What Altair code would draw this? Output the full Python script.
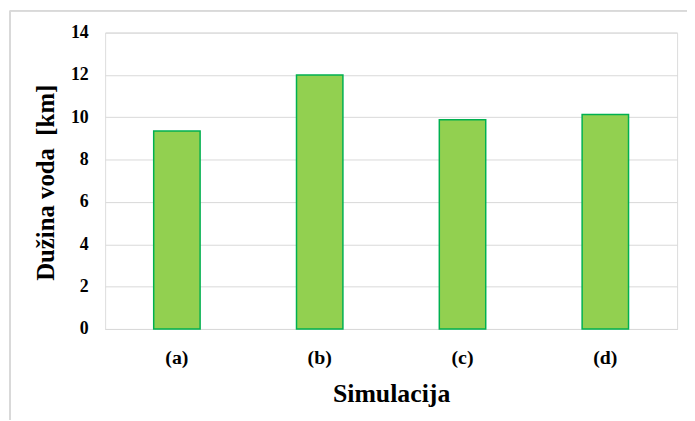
import altair as alt
import pandas as pd

categories = ["(a)", "(b)", "(c)", "(d)"]
values = [9.35, 12.0, 9.88, 10.13]

df = pd.DataFrame({"sim": categories, "len": values})

W, H = 577, 299

bars = alt.Chart(df).mark_bar(
    fill="#92D050", stroke="#00B050", strokeWidth=1.5
).encode(
    x=alt.X("sim:N", sort=categories,
            scale=alt.Scale(paddingInner=0.675, paddingOuter=0.34),
            axis=alt.Axis(title="Simulacija", labelAngle=0, ticks=False,
                          domain=True, domainColor="#d9d9d9", domainWidth=1,
                          labelPadding=19, labelFontSize=20, labelFont="Liberation Serif",
                          labelFontWeight="bold", labelColor="#000000",
                          titleFont="Liberation Serif", titleFontSize=26,
                          titleFontWeight="bold", titleColor="#000000",
                          titleY=73, titleBaseline="alphabetic")),
    y=alt.Y("len:Q", scale=alt.Scale(domain=[0, 14]),
            axis=alt.Axis(title="Dužina voda\u00a0 [km]", values=list(range(0, 15, 2)),
                          ticks=False, domain=False, grid=True,
                          gridColor="#d9d9d9", gridWidth=1,
                          labelPadding=17, labelFontSize=18, labelFont="Liberation Serif",
                          labelFontWeight="bold", labelColor="#000000",
                          titleFont="Liberation Serif", titleFontSize=25,
                          titleFontWeight="bold", titleColor="#000000",
                          titleX=-60, titleY=151, titleAlign="center",
                          titleBaseline="middle")),
)

left_border = alt.Chart(df).mark_rule(color="#d9d9d9", strokeWidth=1.5, clip=False).encode(
    x=alt.value(-96), y=alt.value(-22), y2=alt.value(H + 100)
)
top_border = alt.Chart(df).mark_rule(color="#d9d9d9", strokeWidth=1.5, clip=False).encode(
    x=alt.value(-96), x2=alt.value(W + 20), y=alt.value(-22)
)

chart = alt.layer(left_border, top_border, bars).properties(
    width=W, height=H,
    autosize=alt.AutoSizeParams(type="none"),
    padding={"left": 98, "top": 23, "right": 10, "bottom": 90},
).configure_view(stroke=None).configure(background="white")

chart.save("out.html", embed_options={"renderer": "svg", "actions": False})
